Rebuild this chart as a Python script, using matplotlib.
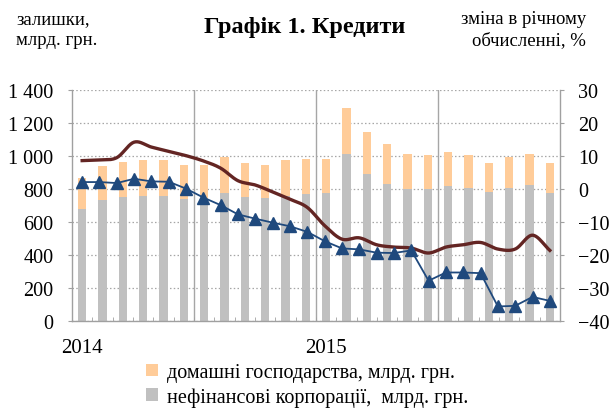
import numpy as np
import matplotlib
matplotlib.use("Agg")
import matplotlib.pyplot as plt
from matplotlib.patches import Patch

plt.rcParams['font.family'] = ['Liberation Serif', 'DejaVu Serif']

# ---- data ----
year_labels = ["2014", "2015"]
corporations = [679, 734, 754, 760, 760, 738, 722, 778, 754, 748, 760, 772,
                775, 1015, 892, 833, 803, 803, 819, 809, 784, 809, 825, 778]
households = [187, 206, 211, 215, 215, 210, 226, 213, 205, 200, 215, 211,
              208, 276, 253, 239, 212, 203, 207, 197, 175, 182, 190, 181]
households_growth = [8.6, 8.8, 9.5, 14.2, 12.7, 11.4, 10.1, 8.5, 6.3, 2.5, 1.2, -0.9,
                     -3.1, -5.6, -11.1, -15.2, -14.8, -16.9, -17.6, -17.9, -19.4,
                     -17.6, -16.9, -16.2, -18.2, -18.2, -14.0, -18.6]
corporations_growth = [2.1, 2.1, 1.8, 3.1, 2.3, 2.2, 0.1, -2.6, -4.9, -7.7, -9.0, -10.2,
                       -11.3, -13.0, -15.8, -18.0, -18.3, -19.3, -19.4, -18.6, -27.8,
                       -25.3, -25.3, -25.5, -35.6, -35.4, -32.7, -33.9]

n_bars = len(corporations)
xb = np.arange(n_bars)
n_line = len(households_growth)
xl = np.linspace(0, n_bars - 1, n_line)


def catmull_rom(x, y, steps=20):
    x = np.asarray(x, float); y = np.asarray(y, float)
    px = np.concatenate([[2 * x[0] - x[1]], x, [2 * x[-1] - x[-2]]])
    py = np.concatenate([[2 * y[0] - y[1]], y, [2 * y[-1] - y[-2]]])
    ox, oy = [], []
    for i in range(1, len(px) - 2):
        t = np.linspace(0, 1, steps, endpoint=False)
        for p, out in ((px, ox), (py, oy)):
            p0, p1, p2, p3 = p[i - 1], p[i], p[i + 1], p[i + 2]
            out.extend(0.5 * ((2 * p1) + (-p0 + p2) * t +
                              (2 * p0 - 5 * p1 + 4 * p2 - p3) * t ** 2 +
                              (-p0 + 3 * p1 - 3 * p2 + p3) * t ** 3))
    ox.append(x[-1]); oy.append(y[-1])
    return np.array(ox), np.array(oy)


fig = plt.figure(figsize=(6.11, 4.10), dpi=100)
ax = fig.add_axes([72 / 611, 1 - 322 / 410, (560 - 72) / 611, (322 - 91) / 410])

c_gray = '#c0c0c0'
c_orange = '#ffcc99'
ax.bar(xb, corporations, width=0.42, color=c_gray, zorder=2)
ax.bar(xb, households, width=0.42, bottom=corporations, color=c_orange, zorder=2)

ax.set_xlim(-0.5, n_bars - 0.5)
ax.set_ylim(0, 1400)
ax.set_yticks(np.arange(0, 1401, 200))
ax.set_yticklabels(["0", "200", "400", "600", "800", "1 000", "1 200", "1 400"])
ax.set_xticks([0, 12])
ax.set_xticklabels(year_labels)
ax.set_xticks(np.arange(-0.5, n_bars, 1), minor=True)
ax.tick_params(axis='x', which='major', length=0, pad=12, labelsize=15)
ax.tick_params(axis='x', which='minor', length=3, color='#a0a0a0', direction='in')
ax.tick_params(axis='y', length=3, color='#a0a0a0', labelsize=14.5, pad=10.5)

ax.grid(axis='y', linestyle=(0, (1.2, 1.8)), color='#a6a6a6', linewidth=0.9, zorder=0)
for v in [5.5, 11.5, 17.5]:
    ax.axvline(v, color='#a6a6a6', linewidth=1.0, zorder=1)
for s in ['left', 'right', 'bottom']:
    ax.spines[s].set_color('#a0a0a0')
    ax.spines[s].set_linewidth(1.0)
ax.spines['top'].set_visible(False)

ax2 = ax.twinx()
ax2.set_ylim(-40, 30)
ax2.set_yticks(np.arange(-40, 31, 10))
ax2.tick_params(axis='y', length=3, color='#a0a0a0', labelsize=14.5, pad=10)
for s in ['left', 'right', 'bottom', 'top']:
    ax2.spines[s].set_visible(False)

sx, sy = catmull_rom(xl, households_growth)
ax2.plot(sx, sy, color='#632523', linewidth=2.4, zorder=3)
ax2.plot(xl, corporations_growth, color='#1f497d', linewidth=1.3, marker='^',
         markersize=8.5, markerfacecolor='#1f497d', markeredgecolor='#1f497d', zorder=4)

fig.text(305 / 611, 1 - 27 / 410, "Графік 1. Кредити", ha='center', va='center',
         fontsize=17.5, fontweight='bold')
fig.text(16 / 611, 1 - 30 / 410, "залишки,\nмлрд. грн.", ha='left', va='center',
         fontsize=13.5, linespacing=1.25)
fig.text(586 / 611, 1 - 30 / 410, "зміна в річному\nобчисленні, %", ha='right', va='center',
         fontsize=13.5, linespacing=1.25, multialignment='right')

handles = [Patch(facecolor=c_orange, edgecolor='none'), Patch(facecolor=c_gray, edgecolor='none')]
labels = ["домашні господарства, млрд. грн.", "нефінансові корпорації,  млрд. грн."]
fig.legend(handles, labels, loc='upper left', bbox_to_anchor=(146 / 611, 1 - 364 / 410),
           frameon=False, fontsize=14.5, handlelength=0.6, handleheight=0.6,
           handletextpad=0.45, labelspacing=0.25, borderaxespad=0, borderpad=0)

fig.savefig("out.png", dpi=100)
